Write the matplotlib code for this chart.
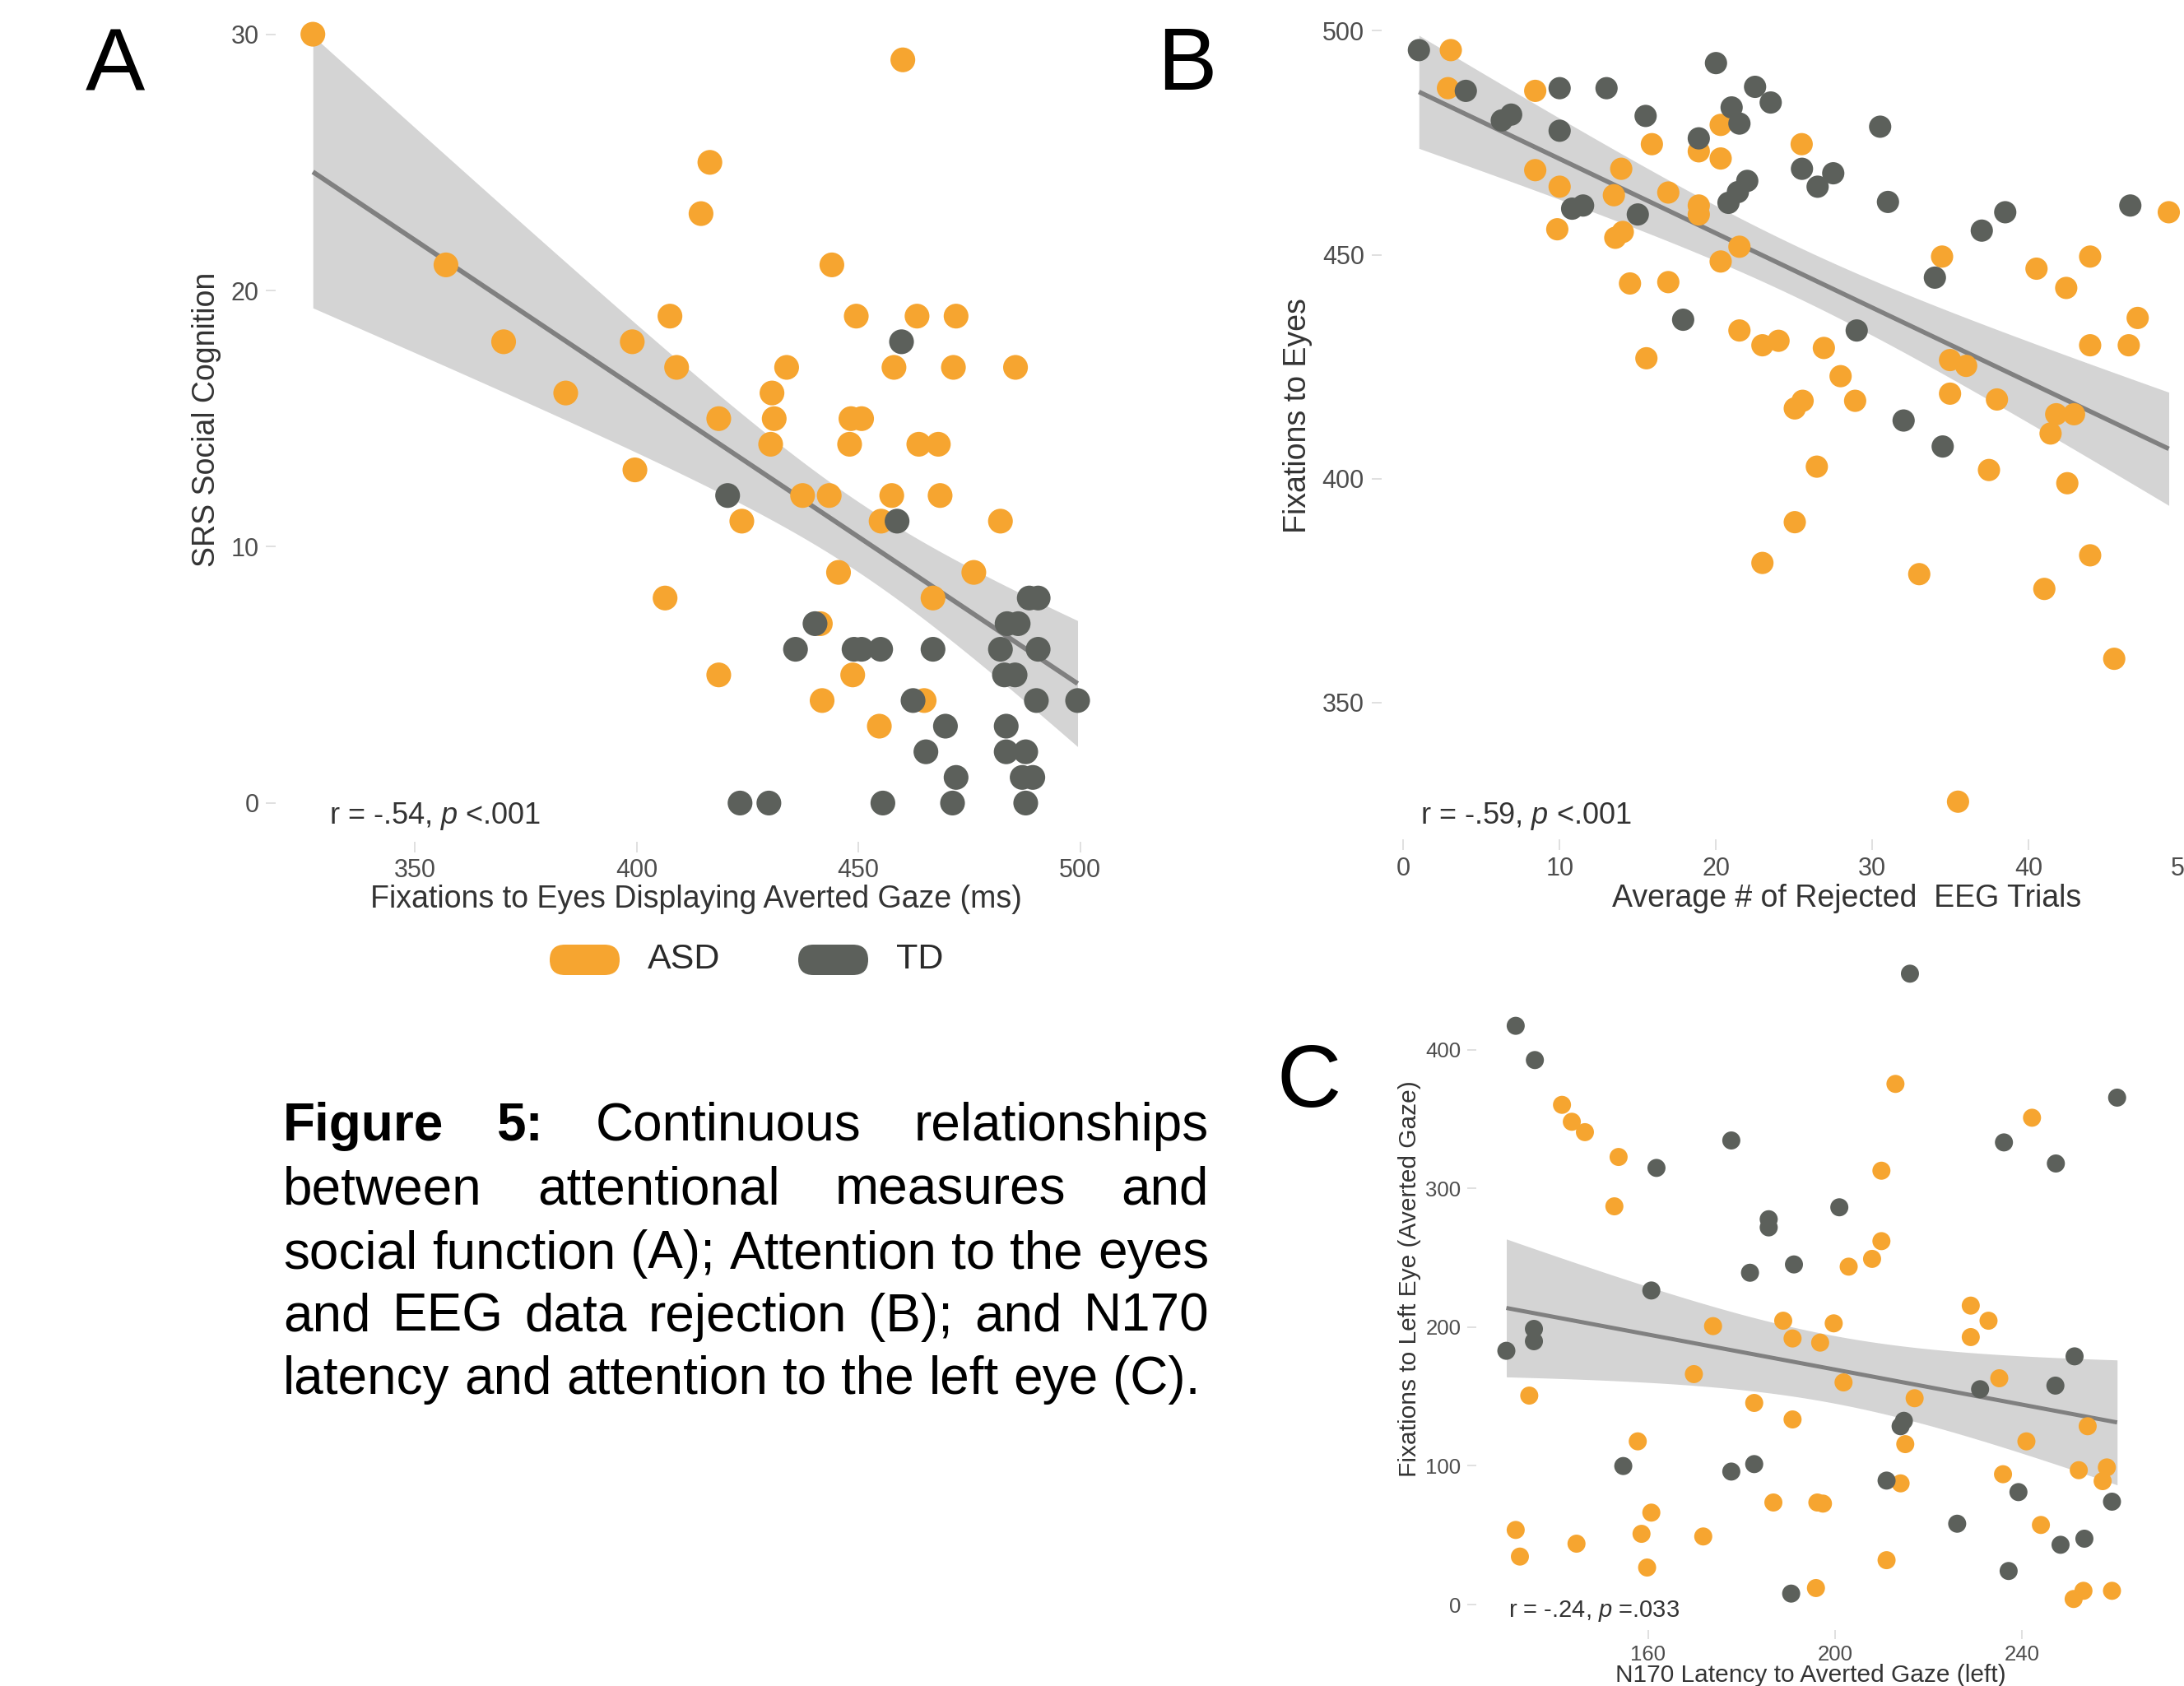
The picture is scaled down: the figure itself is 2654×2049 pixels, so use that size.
import numpy as np
import matplotlib
matplotlib.use('Agg')
from matplotlib import pyplot as plt
from matplotlib.patches import FancyBboxPatch

plt.rcParams['font.family'] = ['Liberation Sans', 'DejaVu Sans']
plt.rcParams['mathtext.fontset'] = 'custom'
plt.rcParams['mathtext.rm'] = 'Liberation Sans'
plt.rcParams['mathtext.it'] = 'Liberation Sans:italic'

W, H = 2654, 2049
ASD_COL = '#F6A530'
TD_COL = '#5C605B'

# ---- panel A: fixations to averted-gaze eyes vs SRS social cognition
a_asd_x = [327, 357, 370, 384, 399, 399.6, 406.4, 407.5, 409, 414.5,
           416.5, 418.5, 418.5, 423.7, 430.2, 430.5, 431, 433.8, 437.4, 441.4,
           441.8, 443.4, 444, 445.5, 448, 448.3, 448.7, 449.5, 450.7, 454.7,
           455.1, 457.5, 458, 460, 463.2, 463.6, 464.8, 466.8, 468, 468.4,
           471.4, 472, 476, 482, 485.4]
a_asd_y = [30, 21, 18, 16, 18, 13, 8, 19, 17, 23,
           25, 15, 5, 11, 14, 16, 15, 17, 12, 7,
           4, 12, 21, 9, 14, 15, 5, 19, 15, 3,
           11, 12, 17, 29, 19, 14, 4, 8, 14, 12,
           17, 19, 9, 11, 17]
a_td_x = [420.5, 458.7, 459.7, 488.5, 490.5, 440.2, 483.5, 486, 435.8, 449,
          450.7, 455, 466.8, 482, 490.5, 482.9, 485.3, 462.3, 490.1, 499.4,
          469.6, 483.3, 465.2, 483.3, 487.7, 472, 486.9, 489.3, 423.3, 429.8,
          455.5, 471.2, 487.7]
a_td_y = [12, 11, 18, 8, 8, 7, 7, 7, 6, 6,
          6, 6, 6, 6, 6, 5, 5, 4, 4, 4,
          3, 3, 2, 2, 2, 1, 1, 1, 0, 0,
          0, 0, 0]

# ---- panel B: rejected EEG trials vs fixations to eyes
b_asd_x = [3.04, 2.86, 8.44, 8.44, 10, 9.85, 15.9, 13.94, 13.47, 13.56,
           14.04, 16.95, 18.9, 18.9, 18.9, 20.3, 20.3, 20.3, 14.5, 16.95,
           15.55, 25.48, 21.5, 34.46, 43.93, 40.5, 42.4, 46.97, 48.96, 43.93,
           46.4, 21.5, 22.97, 24.0, 26.9, 27.97, 28.9, 25.04, 25.54, 34.97,
           36, 34.97, 37.97, 41.76, 42.9, 41.4, 26.45, 25.04, 22.97, 33,
           37.46, 42.47, 43.93, 41, 45.47, 35.48]
b_asd_y = [495.7, 487.2, 486.6, 468.9, 465.2, 455.7, 474.7, 469.2, 463.3, 453.8,
           455.1, 463.9, 461, 459, 473.1, 479, 471.5, 448.5, 443.6, 443.9,
           426.9, 474.7, 451.8, 449.6, 449.6, 446.9, 442.6, 435.9, 459.5, 429.8,
           429.8, 433.1, 429.8, 430.8, 429.2, 422.9, 417.4, 415.7, 417.4, 426.5,
           425.2, 419, 417.7, 414.4, 414.4, 410.1, 402.7, 390.3, 381.2, 378.7,
           401.95, 399, 382.9, 375.4, 359.8, 327.9]
b_td_x = [1, 4, 6.3, 6.9, 10, 10, 13, 15.5, 10.8, 11.5,
          15, 18.9, 20, 17.9, 22.5, 23.5, 21, 21.5, 30.5, 25.5,
          26.5, 27.5, 20.8, 21.4, 22, 31, 38.5, 37, 46.5, 34,
          29, 32, 34.5]
b_td_y = [495.7, 486.6, 480, 481.3, 487.2, 477.7, 487.2, 481, 460.3, 461,
          459, 476, 492.8, 435.5, 487.5, 484, 482.9, 479.3, 478.6, 469.2,
          465.2, 468.2, 461.6, 464, 466.5, 461.8, 459.5, 455.4, 461, 444.9,
          433.1, 413, 407.2]

# ---- panel C: N170 latency vs fixations to left eye
c_asd_x = [141.6, 143.7, 146.5, 153.7, 152.8, 212.9, 242.1, 209.9, 209.9, 207.9,
           202.9, 229, 232.8, 188.9, 199.7, 134.6, 173.9, 190.9, 169.8, 182.7,
           190.9, 157.8, 186.8, 160.7, 158.6, 171.8, 144.7, 131.7, 132.6, 159.8,
           196.8, 201.8, 217, 215, 214, 196.2, 197.4, 211, 195.9, 229,
           235.1, 254, 240.9, 235.9, 252.1, 258.1, 257.2, 244, 251, 253.1,
           259.2]
c_asd_y = [360.4, 348.2, 340.7, 322.8, 287.2, 375.5, 351.1, 312.9, 262.1, 249.3,
           243.7, 215.6, 204.7, 204.7, 202.8, 150.7, 200.8, 191.9, 166.2, 145.4,
           133.5, 117.7, 73.6, 66.3, 51, 49.1, 43.9, 53.8, 34.6, 26.7,
           188.9, 160.2, 148.8, 115.7, 87.4, 73.6, 72.8, 32, 11.9, 192.9,
           163.2, 128.6, 117.7, 94, 96.9, 98.9, 89, 57.4, 4, 9.9,
           9.9]
c_td_x = [131.7, 135.8, 161.8, 177.8, 185.8, 185.8, 181.8, 191.2, 160.7, 216,
          260.3, 236.1, 247.2, 200.9, 129.7, 135.6, 135.6, 154.7, 177.8, 182.7,
          190.6, 211, 214.7, 214, 231, 247.1, 251.2, 239.2, 259.2, 226.1,
          248.2, 253.3, 237.1]
c_td_y = [417.4, 392.7, 314.9, 334.7, 277.9, 272, 239.3, 245.3, 226.5, 455,
          365.6, 333.3, 318.1, 286.5, 183, 198.8, 189.9, 99.9, 95.9, 101.3,
          7.9, 89.4, 132.5, 128.6, 155.3, 157.9, 179, 81.1, 74.2, 58.3,
          43.1, 47.5, 24.2]

stats_a = r'r = -.54, $\it{p}$ <.001'
stats_b = r'r = -.59, $\it{p}$ <.001'
stats_c = r'r = -.24, $\it{p}$ =.033'

caption = ["Figure 5: Continuous relationships",
           "between attentional measures and",
           "social function (A); Attention to the eyes",
           "and EEG data rejection (B); and N170",
           "latency and attention to the left eye (C)."]


def smooth(ax, x1, y1, x2, y2, lw):
    # lm fit with 95% band, like geom_smooth(method='lm')
    x = np.array(x1 + x2, float)
    y = np.array(y1 + y2, float)
    b, a = np.polyfit(x, y, 1)
    n = len(x)
    s = np.sqrt(np.sum((y - (a + b * x)) ** 2) / (n - 2))
    sxx = np.sum((x - x.mean()) ** 2)
    g = np.linspace(x.min(), x.max(), 200)
    se = s * np.sqrt(1 / n + (g - x.mean()) ** 2 / sxx)
    fit = a + b * g
    ax.fill_between(g, fit - 1.99 * se, fit + 1.99 * se, color='#D4D4D4', lw=0, zorder=1)
    ax.plot(g, fit, color='#808080', lw=lw, zorder=2, solid_capstyle='butt')


def panel(rect, ax_x, ax_y, td_x, td_y, xlim, ylim, xt, yt, size, tfs, lfs,
          xlab, ylab, xlab_pos, ylab_pos, stats, stats_xy, sfs, tick_len, pad, lw):
    ax = fig.add_axes(rect)
    smooth(ax, ax_x, ax_y, td_x, td_y, lw)
    ax.scatter(ax_x, ax_y, s=size, color=ASD_COL, edgecolors='none', zorder=3)
    ax.scatter(td_x, td_y, s=size, color=TD_COL, edgecolors='none', zorder=4)
    ax.set_xlim(xlim)
    ax.set_ylim(ylim)
    ax.set_xticks(xt)
    ax.set_yticks(yt)
    for sp in ax.spines.values():
        sp.set_visible(False)
    ax.tick_params(length=tick_len, width=1.2, color='#DADADA', pad=pad,
                   labelsize=tfs, labelcolor='#4D4D4D')
    ax.patch.set_alpha(0)
    ax.text(xlab_pos[0], xlab_pos[1], xlab, transform=ax.transAxes, ha='center',
            va='center', fontsize=lfs, color='#333333')
    ax.text(ylab_pos[0], ylab_pos[1], ylab, transform=ax.transAxes, ha='center',
            va='center', rotation=90, fontsize=lfs, color='#333333')
    ax.text(stats_xy[0], stats_xy[1], stats, ha='left', va='center', fontsize=sfs,
            color='#333333', zorder=5)
    return ax


fig = plt.figure(figsize=(W / 100, H / 100), dpi=100)

panel([0.1264, 0.5009, 0.3857, 0.5016], a_asd_x, a_asd_y, a_td_x, a_td_y,
      (318.7, 508.6), (-1.5, 31.5), [350, 400, 450, 500], [0, 10, 20, 30],
      470, 22, 27, 'Fixations to Eyes Displaying Averted Gaze (ms)',
      'SRS Social Cognition', (0.499, -0.068), (-0.083, 0.499),
      stats_a, (330.6, -0.5), 26, 9, 6, 4.2)

panel([0.6325, 0.5022, 0.378, 0.4904], b_asd_x, b_asd_y, b_td_x, b_td_y,
      (-1.4, 51.4), (319.5, 504.1), [0, 10, 20, 30, 40, 50], [350, 400, 450, 500],
      380, 22, 27, 'Average # of Rejected  EEG Trials', 'Fixations to Eyes',
      (0.5635, -0.0717), (-0.101, 0.512), stats_b, (1.1, 324.6), 26, 9, 6, 4.0)

panel([0.6758, 0.0331, 0.3075, 0.4079], c_asd_x, c_asd_y, c_td_x, c_td_y,
      (123.2, 266.8), (-18.5, 477.5), [160, 200, 240], [0, 100, 200, 300, 400],
      250, 18.5, 21.5, 'N170 Latency to Averted Gaze (left)',
      'Fixations to Left Eye (Averted Gaze)', (0.498, -0.0656), (-0.0986, 0.511),
      stats_c, (130.1, -4.8), 21, 8, 5, 3.6)

# overlay in pixel units for legend, panel letters and caption
ov = fig.add_axes([0, 0, 1, 1])
ov.set_xlim(0, W)
ov.set_ylim(H, 0)
ov.axis('off')
ov.patch.set_alpha(0)

for x0, col, lab in [(668, ASD_COL, 'ASD'), (970, TD_COL, 'TD')]:
    ov.add_patch(FancyBboxPatch((x0, 1148), 85, 37,
                                boxstyle='round,pad=0,rounding_size=18.5',
                                fc=col, ec='none'))
    ov.text(x0 + 119, 1166, lab, ha='left', va='center', fontsize=31,
            color='#2A2A2A')

for lab, x, y in [('A', 140, 82), ('B', 1442, 81), ('C', 1591, 1317)]:
    ov.text(x, y, lab, ha='center', va='center', fontsize=78, color='#000000')

# justified caption
renderer = fig.canvas.get_renderer()
cx0, cx1 = 344, 1469
cap_fs = 46
line_y = [1369, 1447, 1524, 1601, 1677]
sp_a = ov.text(0, 0, 'x x', fontsize=cap_fs)
sp_b = ov.text(0, 0, 'xx', fontsize=cap_fs)
space = sp_a.get_window_extent(renderer).width - sp_b.get_window_extent(renderer).width
sp_a.remove()
sp_b.remove()
for i, line in enumerate(caption):
    words = line.split()
    ts = []
    for j, w in enumerate(words):
        wt = 'bold' if (i == 0 and j < 2) else 'normal'
        ts.append(ov.text(cx0, line_y[i], w, ha='left', va='center',
                          fontsize=cap_fs, fontweight=wt, color='#000000'))
    widths = [t.get_window_extent(renderer).width for t in ts]
    if i < len(caption) - 1:
        gap = (cx1 - cx0 - sum(widths)) / (len(words) - 1)
    else:
        gap = space
    x = cx0
    for t, wd in zip(ts, widths):
        t.set_x(x)
        x += wd + gap

fig.savefig('out.png', dpi=100)
